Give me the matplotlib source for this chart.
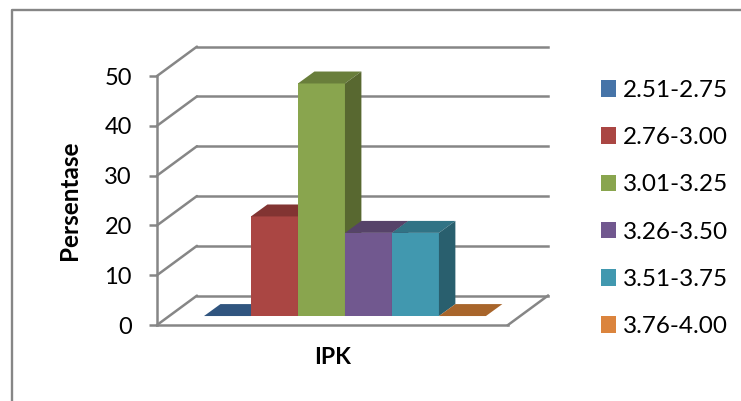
import matplotlib
matplotlib.use("Agg")
import matplotlib.pyplot as plt
from matplotlib.lines import Line2D
from matplotlib.patches import Patch, Polygon, Rectangle

plt.rcParams["font.family"] = ["Lato", "DejaVu Sans"]

# Data
categories = ["2.51-2.75", "2.76-3.00", "3.01-3.25", "3.26-3.50", "3.51-3.75", "3.76-4.00"]
values = [0, 20, 46.7, 16.7, 16.7, 0]
y_ticks = [0, 10, 20, 30, 40, 50]

# Colours per series: front, top, side
front_colors = ["#4674A8", "#AA4643", "#89A54E", "#71588F", "#4198AF", "#DB843D"]
bar_fronts = ["#30557F"] + front_colors[1:5] + ["#A8652B"]
top_colors = ["#30557F", "#823432", "#697E3B", "#564369", "#317385", "#A8652B"]
side_colors = ["#294A6E", "#6F2C2A", "#586830", "#493958", "#295F6E", "#8F5624"]
grid_color = "#868686"

# Oblique projection, in data units
wall_dx, wall_dy = 0.85, 5.9
bar_dx, bar_dy = 0.35, 2.4
floor_lift = 1.8

fig = plt.figure(figsize=(7.41, 4.01), dpi=100)
ax = fig.add_axes([157 / 741, 76 / 401, 351 / 741, 249 / 401])
x_min, x_max = -1.0, 6.47
ax.set_xlim(x_min, x_max)
ax.set_ylim(0, 50)

# Chart area border, open at the right and the bottom
fig.add_artist(Line2D([12 / 741, 12 / 741, 1], [0, 391 / 401, 391 / 401],
                      color=grid_color, lw=1.7))

# Side wall and back wall lines
for v in y_ticks:
    ax.plot([x_min, x_min + wall_dx], [v, v + wall_dy], color=grid_color, lw=1.8,
            clip_on=False, zorder=1, solid_capstyle="round")
    ax.plot([x_min + wall_dx, x_max + wall_dx], [v + wall_dy, v + wall_dy], color=grid_color,
            lw=1.8, clip_on=False, zorder=1)
ax.plot([x_max, x_max + wall_dx], [0, wall_dy], color=grid_color, lw=1.8, clip_on=False, zorder=1)

# Bars, drawn left to right so each one covers the side of the previous
for i, v in enumerate(values):
    top = v + floor_lift
    z = 2 + i
    ax.add_patch(Rectangle((i, floor_lift), 1, v, fc=bar_fronts[i], ec="none",
                           clip_on=False, zorder=z))
    ax.add_patch(Polygon([(i, top), (i + 1, top), (i + 1 + bar_dx, top + bar_dy), (i + bar_dx, top + bar_dy)],
                         fc=top_colors[i], ec="none", clip_on=False, zorder=z))
    if v > 0:
        ax.add_patch(Polygon([(i + 1, floor_lift), (i + 1 + bar_dx, floor_lift + bar_dy),
                              (i + 1 + bar_dx, top + bar_dy), (i + 1, top)],
                             fc=side_colors[i], ec="none", clip_on=False, zorder=z))

# Axes
for side in ["top", "right"]:
    ax.spines[side].set_visible(False)
for side in ["left", "bottom"]:
    ax.spines[side].set_color(grid_color)
    ax.spines[side].set_linewidth(1.8)
ax.patch.set_visible(False)
ax.set_xticks([])
ax.set_yticks(y_ticks)
ax.tick_params(axis="y", length=5.5, width=1.8, color=grid_color, labelsize=17, pad=12.5)
for label in ax.get_yticklabels():
    label.set_verticalalignment("center_baseline")
ax.set_xlabel("IPK", fontsize=16.5, fontweight="bold", labelpad=16)
ax.set_ylabel("Persentase", fontsize=17.5, fontweight="bold", labelpad=17)

# Legend
handles = [Patch(fc=c, ec="none") for c in front_colors]
ax.legend(handles, categories, loc="center left", bbox_to_anchor=(601 / 741, 192.5 / 401),
          bbox_transform=fig.transFigure, frameon=False, fontsize=17.5, labelspacing=1.08,
          handlelength=0.62, handleheight=0.68, handletextpad=0.3, borderpad=0, borderaxespad=0)

fig.savefig("out.png", dpi=100)
